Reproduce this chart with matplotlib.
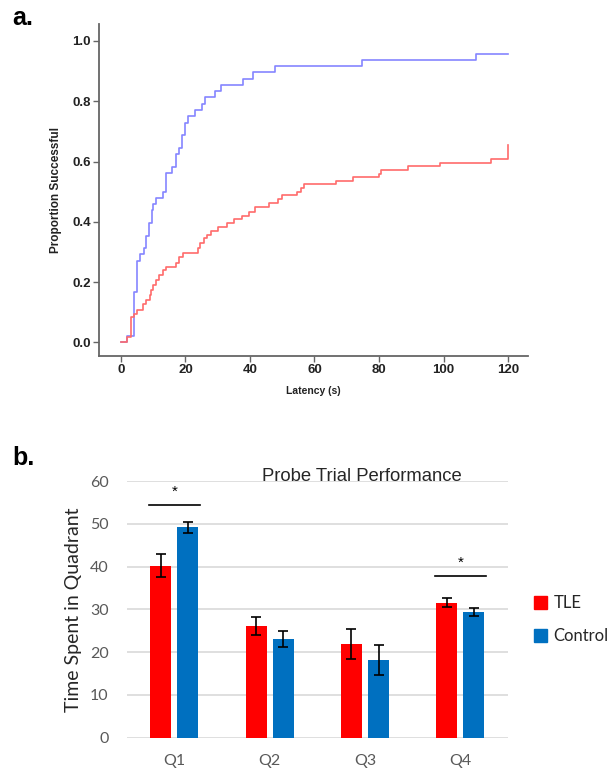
import matplotlib.pyplot as plt
from matplotlib.patches import Patch

# panel a: cumulative proportion successful vs latency (step curves)
control_latency = [0, 2.0, 3.9, 5.0, 5.9, 7.0, 7.9, 8.7, 9.7, 10.0, 11.0, 12.9, 13.9,
                   15.9, 17.0, 17.9, 18.8, 20.0, 20.9, 23.0, 25.0, 26.0, 29.1, 30.9,
                   37.8, 40.9, 47.8, 74.8, 110.0, 120.0]
control_prop = [0, 0.021, 0.167, 0.271, 0.292, 0.313, 0.354, 0.396, 0.438, 0.458, 0.479,
                0.5, 0.563, 0.583, 0.625, 0.646, 0.688, 0.729, 0.75, 0.771, 0.792, 0.813,
                0.833, 0.854, 0.875, 0.896, 0.917, 0.938, 0.958, 0.958]

tle_latency = [0, 2.0, 3.0, 4.1, 5.1, 6.8, 7.9, 8.9, 9.4, 9.9, 11.0, 11.8, 12.9, 14.1,
               17.0, 18.0, 19.1, 23.9, 24.4, 25.8, 26.7, 27.9, 30.1, 33.0, 35.0, 37.5,
               39.8, 41.6, 46.0, 48.6, 49.8, 54.7, 55.7, 56.7, 66.8, 71.8, 80.0, 80.6,
               88.9, 98.9, 114.7, 120.0, 120.0]
tle_prop = [0, 0.019, 0.085, 0.096, 0.109, 0.129, 0.142, 0.157, 0.173, 0.19, 0.207,
            0.223, 0.24, 0.251, 0.264, 0.282, 0.298, 0.314, 0.33, 0.345, 0.358, 0.37,
            0.383, 0.395, 0.408, 0.42, 0.433, 0.448, 0.461, 0.475, 0.489, 0.5, 0.511,
            0.524, 0.535, 0.549, 0.56, 0.572, 0.585, 0.596, 0.61, 0.61, 0.654]

# panel b: probe trial
quadrants = ['Q1', 'Q2', 'Q3', 'Q4']
tle_time = [40.2, 26.1, 21.8, 31.6]
tle_err = [2.65, 2.05, 3.5, 1.05]
control_time = [49.2, 23.1, 18.2, 29.4]
control_err = [1.25, 1.85, 3.5, 1.0]
sig_quadrants = [0, 3]
sig_heights = [54.4, 37.8]

fig = plt.figure(figsize=(6.1, 7.69), dpi=100)

# ---- a. ----
ax1 = fig.add_axes([0.1623, 0.537, 0.7033, 0.4318])
ax1.step(control_latency, control_prop, where='post', color='#8585ff', lw=1.2)
ax1.step(tle_latency, tle_prop, where='post', color='#ff6b6b', lw=1.2)
ax1.set_xlim(-6.8, 126.2)
ax1.set_ylim(-0.045, 1.056)
ax1.set_xticks([0, 20, 40, 60, 80, 100, 120])
ax1.set_yticks([0.0, 0.2, 0.4, 0.6, 0.8, 1.0])
ax1.set_yticklabels(['0.0', '0.2', '0.4', '0.6', '0.8', '1.0'])
for s in ['top', 'right']:
    ax1.spines[s].set_visible(False)
for s in ['left', 'bottom']:
    ax1.spines[s].set_color('#666666')
    ax1.spines[s].set_linewidth(1.3)
ax1.tick_params(direction='out', length=4, width=1, color='#666666',
                labelsize=9.5, labelcolor='#222222', pad=2)
for lbl in ax1.get_xticklabels() + ax1.get_yticklabels():
    lbl.set_fontweight('bold')
    lbl.set_family('Liberation Sans')
ax1.set_xlabel('Latency (s)', fontsize=7.5, fontweight='bold', family='Liberation Sans',
               color='#222222', labelpad=7)
ax1.set_ylabel('Proportion Successful', fontsize=8.5, fontweight='bold',
               family='Liberation Sans', color='#222222', labelpad=7)
fig.text(0.02, 0.968, 'a.', fontsize=18, fontweight='bold', family='Liberation Sans',
         va='baseline')

# ---- b. ----
ax2 = fig.add_axes([0.2077, 0.0407, 0.6251, 0.3338])
x = list(range(len(quadrants)))
w = 0.22
off = 0.142
ax2.bar([i - off for i in x], tle_time, width=w, color='#ff0000', zorder=3)
ax2.bar([i + off for i in x], control_time, width=w, color='#0070c0', zorder=3)
ax2.errorbar([i - off for i in x], tle_time, yerr=tle_err, fmt='none', ecolor='black',
             elinewidth=1.2, capsize=3.5, capthick=1.2, zorder=4)
ax2.errorbar([i + off for i in x], control_time, yerr=control_err, fmt='none',
             ecolor='black', elinewidth=1.2, capsize=3.5, capthick=1.2, zorder=4)
for q, h in zip(sig_quadrants, sig_heights):
    ax2.plot([q - 0.27, q + 0.27], [h, h], color='black', lw=1.2, zorder=4)
    ax2.text(q, h + 3.0, '*', ha='center', va='center', fontsize=11,
             family='Liberation Sans')
ax2.set_xlim(-0.5, 3.5)
ax2.set_ylim(0, 60)
ax2.set_yticks([0, 10, 20, 30, 40, 50, 60])
ax2.set_xticks(x)
ax2.set_xticklabels(quadrants)
ax2.yaxis.grid(True, color='#d9d9d9', lw=1.2, zorder=0)
for s in ['top', 'right', 'left', 'bottom']:
    ax2.spines[s].set_visible(False)
ax2.tick_params(length=0, labelsize=11.5, labelcolor='#595959', pad=12)
ax2.tick_params(axis='y', pad=13)
for lbl in ax2.get_xticklabels() + ax2.get_yticklabels():
    lbl.set_family('Lato')
ax2.set_ylabel('Time Spent in Quadrant', fontsize=14, family='Lato', color='#262626',
               labelpad=6)
fig.text(0.593, 0.381, 'Probe Trial Performance', fontsize=13.3, family='Liberation Sans',
         color='#262626', ha='center', va='center')
handles = [Patch(color='#ff0000', label='TLE'), Patch(color='#0070c0', label='Control')]
leg = ax2.legend(handles=handles, loc='center left', bbox_to_anchor=(1.045, 0.46),
                 frameon=False, handlelength=0.8, handleheight=0.8, handletextpad=0.4,
                 labelspacing=1.0, borderpad=0, prop={'family': 'Lato', 'size': 12})
for t in leg.get_texts():
    t.set_color('#262626')
fig.text(0.02, 0.395, 'b.', fontsize=18, fontweight='bold', family='Liberation Sans',
         va='baseline')

fig.savefig('out.png', dpi=100)
